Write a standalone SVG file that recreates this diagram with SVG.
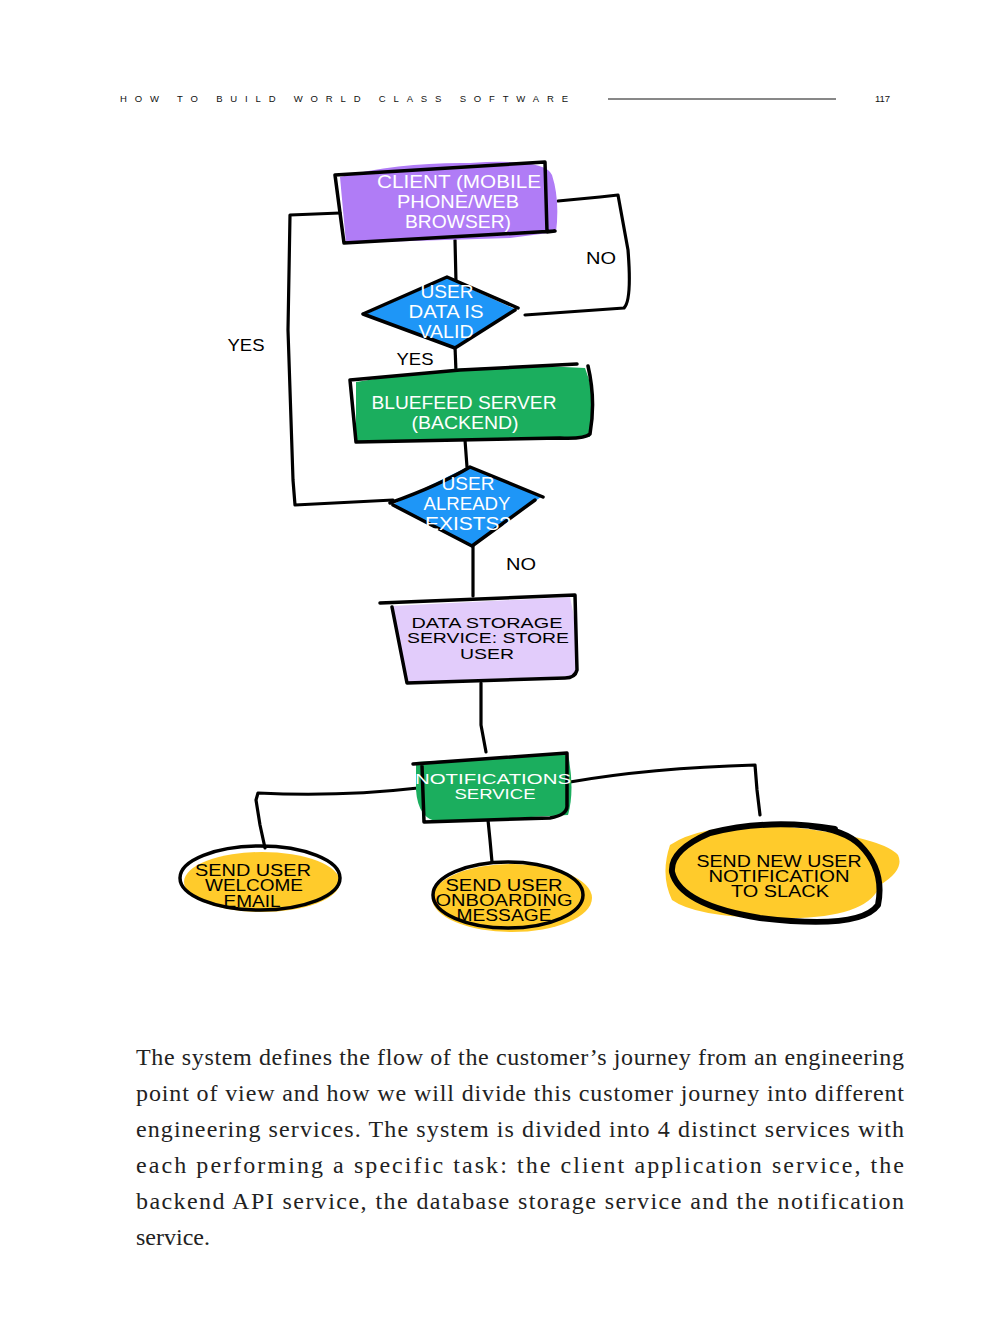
<svg xmlns="http://www.w3.org/2000/svg" width="1008" height="1332" viewBox="0 0 1008 1332">
<style>
.ol{fill:none;stroke:#000;stroke-width:3.5;stroke-linecap:round;stroke-linejoin:round}
.cn{fill:none;stroke:#000;stroke-width:3.2;stroke-linecap:round;stroke-linejoin:round}
.lw{font-family:"Liberation Sans",Arial,sans-serif;font-size:18px;fill:#fff;text-anchor:middle}
.lb{font-family:"Liberation Sans",Arial,sans-serif;font-size:16px;fill:#000;text-anchor:middle}
.lab{font-family:"Liberation Sans",Arial,sans-serif;font-size:17px;fill:#000;text-anchor:middle}
.body{font-family:"Liberation Serif","Times New Roman",serif;font-size:24px;fill:#222}
.hdr{font-family:"Liberation Sans",Arial,sans-serif;font-size:9.5px;fill:#111}
</style>
<rect width="1008" height="1332" fill="#fff"/>
<g id="header">
<text class="hdr" x="120" y="102" textLength="448" lengthAdjust="spacing">HOW TO BUILD WORLD CLASS SOFTWARE</text>
<line x1="608" y1="99" x2="836" y2="99" stroke="#111" stroke-width="1"/>
<text class="hdr" x="875" y="102">117</text>
</g>
<g id="connectors">
<path class="cn" d="M455,240 L456,282"/>
<path class="cn" d="M525,315 L624,308 Q632,300 628,250 L618,195 L600,197 L558,201"/>
<path class="cn" d="M455,346 L456,372"/>
<path class="cn" d="M465,440 L467,467"/>
<path class="cn" d="M393,500 L295,505 L293,480 L288,330 L290,215 L340,213"/>
<path class="cn" d="M473,540 L473,596"/>
<path class="cn" d="M481,683 L481,725 L486,752"/>
<path class="cn" d="M418,788 Q340,797 258,793 L256,800 L260,825 L265,848"/>
<path class="cn" d="M570,782 Q650,768 755,765 L757,790 L760,815"/>
<path class="cn" d="M488,820 L490,840 L492,862"/>
<text class="lab" x="601" y="264" textLength="30" lengthAdjust="spacingAndGlyphs">NO</text>
<text class="lab" x="415" y="365" textLength="37" lengthAdjust="spacingAndGlyphs">YES</text>
<text class="lab" x="246" y="351" textLength="37" lengthAdjust="spacingAndGlyphs">YES</text>
<text class="lab" x="521" y="570" textLength="30" lengthAdjust="spacingAndGlyphs">NO</text>
</g>
<g id="client">
<path d="M340,177 Q400,162 470,163 Q545,158 552,175 Q560,200 556,232 L510,238 L346,243 Z" fill="#B07CF6"/>
<path class="ol" d="M335,175 L545,162 L547,232 L555,231 L344,243 L335,175"/>
<text class="lw"><tspan x="459" y="188" textLength="164" lengthAdjust="spacingAndGlyphs">CLIENT (MOBILE</tspan><tspan x="458" y="208" textLength="122" lengthAdjust="spacingAndGlyphs">PHONE/WEB</tspan><tspan x="458" y="228" textLength="106" lengthAdjust="spacingAndGlyphs">BROWSER)</tspan></text>
</g>
<g id="valid">
<path d="M366,314 L447,278 L515,309 L454,347 Z" fill="#1E96F7"/>
<path class="ol" d="M363,314 L447,277 L518,308 M363,314 L455,348 L515,310"/>
<text class="lw"><tspan x="447" y="298" textLength="53" lengthAdjust="spacingAndGlyphs">USER</tspan><tspan x="446" y="318" textLength="75" lengthAdjust="spacingAndGlyphs">DATA IS</tspan><tspan x="446" y="338" textLength="55" lengthAdjust="spacingAndGlyphs">VALID</tspan></text>
</g>
<g id="backend">
<path d="M356,382 Q470,362 585,368 Q598,400 590,437 L356,441 Z" fill="#1BAE5E"/>
<path class="ol" d="M350,380 L460,370 L577,364 M588,366 Q596,400 590,434 Q585,439 560,438 L356,442 L350,380"/>
<text class="lw"><tspan x="464" y="409" textLength="185" lengthAdjust="spacingAndGlyphs">BLUEFEED SERVER</tspan><tspan x="465" y="429" textLength="107" lengthAdjust="spacingAndGlyphs">(BACKEND)</tspan></text>
</g>
<g id="exists">
<path d="M392,505 Q440,480 470,466 L541,497 L472,545 Z" fill="#1E96F7"/>
<path class="ol" d="M390,503 Q440,485 470,467 L543,497 M393,505 L472,546 L535,500"/>
<text class="lw"><tspan x="468" y="490" textLength="53" lengthAdjust="spacingAndGlyphs">USER</tspan><tspan x="467" y="510" textLength="87" lengthAdjust="spacingAndGlyphs">ALREADY</tspan><tspan x="468" y="530" textLength="86" lengthAdjust="spacingAndGlyphs">EXISTS?</tspan></text>
</g>
<g id="storage">
<path d="M392,606 L570,597 Q580,640 576,676 L407,682 Z" fill="#E2CCFB"/>
<path class="ol" d="M380,603 L575,595 L577,670 Q575,678 565,678 L407,683 L392,607"/>
<text class="lb" style="font-size:15px"><tspan x="487" y="628" textLength="151" lengthAdjust="spacingAndGlyphs">DATA STORAGE</tspan><tspan x="488" y="643" textLength="162" lengthAdjust="spacingAndGlyphs">SERVICE: STORE</tspan><tspan x="487" y="659" textLength="54" lengthAdjust="spacingAndGlyphs">USER</tspan></text>
</g>
<g id="notify">
<path d="M416,762 L568,754 Q575,790 568,815 L440,822 Q418,820 416,790 Z" fill="#1BAE5E"/>
<path class="ol" d="M413,764 L567,753 L567,805 Q568,815 550,818 L424,822 L422,766"/>
<text class="lw" style="font-size:15px"><tspan x="493" y="784" textLength="156" lengthAdjust="spacingAndGlyphs">NOTIFICATIONS</tspan><tspan x="495" y="799" textLength="81" lengthAdjust="spacingAndGlyphs">SERVICE</tspan></text>
</g>
<g id="welcome">
<ellipse cx="262" cy="882" rx="78" ry="30" fill="#FFCB2B"/>
<ellipse class="ol" cx="260" cy="878" rx="80" ry="32"/>
<text class="lb"><tspan x="253" y="876" textLength="116" lengthAdjust="spacingAndGlyphs">SEND USER</tspan><tspan x="254" y="891" textLength="98" lengthAdjust="spacingAndGlyphs">WELCOME</tspan><tspan x="252" y="907" textLength="57" lengthAdjust="spacingAndGlyphs">EMAIL</tspan></text>
</g>
<g id="onboarding">
<ellipse cx="512" cy="898" rx="80" ry="34" fill="#FFCB2B"/>
<ellipse class="ol" cx="508" cy="895" rx="75" ry="33"/>
<text class="lb"><tspan x="504" y="891" textLength="117" lengthAdjust="spacingAndGlyphs">SEND USER</tspan><tspan x="504" y="906" textLength="137" lengthAdjust="spacingAndGlyphs">ONBOARDING</tspan><tspan x="504" y="921" textLength="95" lengthAdjust="spacingAndGlyphs">MESSAGE</tspan></text>
</g>
<g id="slack">
<path d="M670,845 Q700,825 770,825 Q880,835 898,855 Q905,870 880,885 Q870,915 800,918 Q700,920 672,900 Q660,875 670,845 Z" fill="#FFCB2B"/>
<path class="ol" style="stroke-width:6" d="M835,829 Q770,818 710,833 Q670,850 672,872 Q680,905 760,918 Q860,930 878,905 Q885,870 860,845 Q845,830 810,826"/>
<text class="lb"><tspan x="779" y="867" textLength="165" lengthAdjust="spacingAndGlyphs">SEND NEW USER</tspan><tspan x="779" y="882" textLength="141" lengthAdjust="spacingAndGlyphs">NOTIFICATION</tspan><tspan x="780" y="897" textLength="98" lengthAdjust="spacingAndGlyphs">TO SLACK</tspan></text>
</g>
<g id="bodytext" class="body">
<text x="136" y="1065" textLength="768" lengthAdjust="spacing">The system defines the flow of the customer’s journey from an engineering</text>
<text x="136" y="1101" textLength="768" lengthAdjust="spacing">point of view and how we will divide this customer journey into different</text>
<text x="136" y="1137" textLength="768" lengthAdjust="spacing">engineering services. The system is divided into 4 distinct services with</text>
<text x="136" y="1173" textLength="768" lengthAdjust="spacing">each performing a specific task: the client application service, the</text>
<text x="136" y="1209" textLength="768" lengthAdjust="spacing">backend API service, the database storage service and the notification</text>
<text x="136" y="1245">service.</text>
</g>
</svg>
